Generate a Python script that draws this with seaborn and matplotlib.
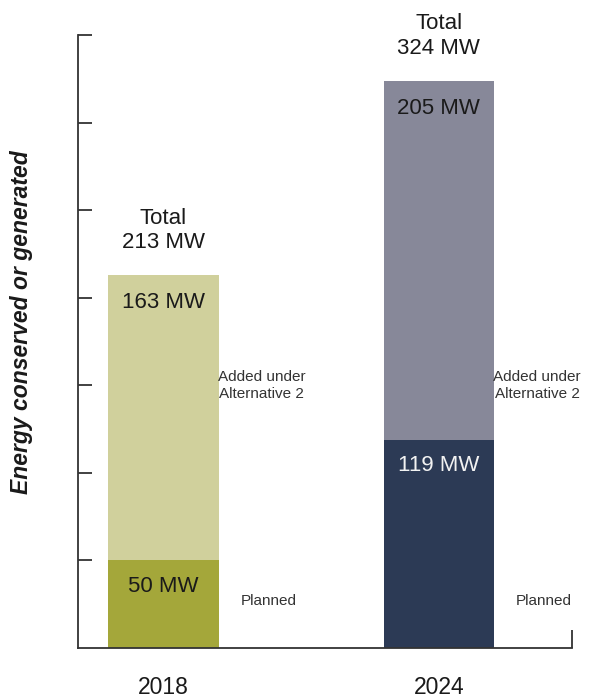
import pandas as pd
import seaborn as sns
import matplotlib
matplotlib.use("Agg")
import matplotlib.pyplot as plt

# data
years = ["2018", "2024"]
planned = [50, 119]
added = [163, 205]
totals = [213, 324]

planned_colors = ["#a4a73a", "#2c3a55"]
added_colors = ["#d0d09c", "#878899"]
label_colors = ["#1a1a1a", "#f2f2f2"]


def set_config():
    sns.set_theme(style="white")
    plt.rcParams["font.family"] = ["Liberation Sans", "DejaVu Sans"]


def draw_chart():
    df = pd.DataFrame({"year": years, "planned": planned, "added": added, "total": totals})

    fig = plt.figure(figsize=(5.97, 7), dpi=100)
    ax = fig.add_axes([0.1307, 0.0743, 0.8273, 0.8757])

    # stacked bars: full total in the light colour, planned part drawn on top
    sns.barplot(data=df, x="year", y="total", hue="year", palette=added_colors,
                width=0.4, saturation=1, legend=False, linewidth=0, ax=ax)
    sns.barplot(data=df, x="year", y="planned", hue="year", palette=planned_colors,
                width=0.4, saturation=1, legend=False, linewidth=0, ax=ax)

    for i, row in df.iterrows():
        ax.annotate(f"{row.added} MW", (i, row.total), xytext=(0, -20), textcoords="offset points",
                    ha="center", va="center", fontsize=16, color="#1a1a1a")
        ax.annotate(f"{row.planned} MW", (i, row.planned), xytext=(0, -19), textcoords="offset points",
                    ha="center", va="center", fontsize=16, color=label_colors[i])
        ax.annotate(f"Total\n{row.total} MW", (i, row.total), xytext=(0, 32), textcoords="offset points",
                    ha="center", va="center", fontsize=16, color="#1a1a1a", linespacing=1.2)
        ax.text(i + 0.357, 150, "Added under\nAlternative 2", ha="center", va="center",
                fontsize=11, color="#333333", linespacing=1.3)
        ax.text(i + 0.382, 27, "Planned", ha="center", va="center", fontsize=11, color="#333333")

    ax.set_xlim(-0.31, 1.483)
    ax.set_ylim(0, 350)
    ax.set_yticks(range(50, 351, 50))
    ax.set_yticklabels([])
    ax.tick_params(axis="y", direction="in", length=10, width=1.3, color="#333333", left=True)
    ax.tick_params(axis="x", length=0, pad=20, labelsize=16.5, labelcolor="#1a1a1a")
    ax.set_xticks([1.483], minor=True)
    ax.tick_params(axis="x", which="minor", direction="in", length=13, width=1.3,
                   color="#333333", bottom=True)

    for side in ["top", "right"]:
        ax.spines[side].set_visible(False)
    for side in ["left", "bottom"]:
        ax.spines[side].set_color("#333333")
        ax.spines[side].set_linewidth(1.3)

    ax.set_xlabel("")
    ax.set_ylabel("Energy conserved or generated", fontsize=16.5, fontweight="bold",
                  fontstyle="italic", color="#1a1a1a")
    ax.yaxis.set_label_coords(-0.091, 0.532)

    fig.savefig("out.png", dpi=100)


def main():
    set_config()
    draw_chart()


if __name__ == "__main__":
    main()
